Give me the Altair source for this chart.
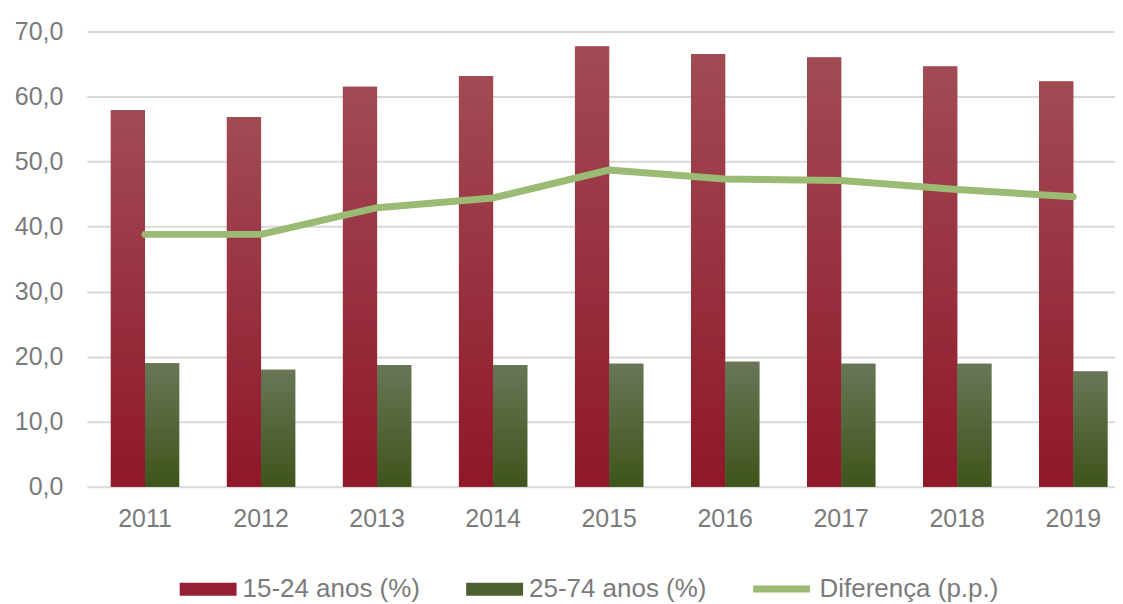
import altair as alt
import pandas as pd

years = ["2011", "2012", "2013", "2014", "2015", "2016", "2017", "2018", "2019"]
jovens = [57.9, 56.8, 61.5, 63.1, 67.7, 66.5, 66.0, 64.6, 62.3]
adultos = [19.0, 18.0, 18.7, 18.7, 18.9, 19.2, 18.9, 18.9, 17.7]
diferenca = [38.8, 38.8, 42.9, 44.4, 48.7, 47.3, 47.1, 45.7, 44.6]

s1 = "15-24 anos (%)"
s2 = "25-74 anos (%)"
s3 = "Diferença (p.p.)"

bars_df = pd.DataFrame(
    {"ano": years * 2, "serie": [s1] * len(years) + [s2] * len(years), "valor": jovens + adultos}
)
line_df = pd.DataFrame({"ano": years, "serie": [s3] * len(years), "valor": diferenca})

FONT = "Liberation Sans"
GREY = "#7b7b7b"

x_enc = alt.X(
    "ano:N",
    sort=years,
    title=None,
    scale=alt.Scale(paddingInner=0.411, paddingOuter=0.136, align=0.76),
    axis=alt.Axis(
        domain=False,
        ticks=False,
        labelAngle=0,
        labelFontSize=25,
        labelFont=FONT,
        labelColor=GREY,
        labelPadding=20,
    ),
)
y_enc = alt.Y(
    "valor:Q",
    title=None,
    scale=alt.Scale(domain=[0, 70], nice=False),
    axis=alt.Axis(
        values=[0, 10, 20, 30, 40, 50, 60, 70],
        domain=False,
        ticks=False,
        grid=True,
        gridColor="#d9d9d9",
        gridWidth=2,
        labelFontSize=25,
        labelFont=FONT,
        labelColor=GREY,
        labelPadding=24,
        labelExpr="replace(format(datum.value, '.1f'), '.', ',')",
    ),
)
xoff = alt.XOffset("serie:N", sort=[s1, s2], scale=alt.Scale(domain=[s1, s2], paddingInner=0, paddingOuter=0))

base_bars = alt.Chart(bars_df)

solid = base_bars.mark_bar().encode(
    x=x_enc,
    y=y_enc,
    xOffset=xoff,
    color=alt.Color(
        "serie:N",
        scale=alt.Scale(domain=[s1, s2], range=["#971f33", "#4d6030"]),
        legend=alt.Legend(
            title=None,
            orient="none",
            legendX=93,
            legendY=530,
            direction="horizontal",
            symbolType="M-1,-0.228H1V0.228H-1Z",
            symbolSize=3249,
            symbolStrokeWidth=0,
            symbolOpacity=1,
            labelFontSize=26,
            labelFont=FONT,
            labelColor=GREY,
            labelOffset=6,
            labelLimit=400,
            columnPadding=46,
        ),
    ),
)

grad_red = alt.LinearGradient(
    gradient="linear",
    x1=0, x2=0, y1=0, y2=1,
    stops=[alt.GradientStop(color="#a14b55", offset=0), alt.GradientStop(color="#8f1729", offset=1)],
)
grad_green = alt.LinearGradient(
    gradient="linear",
    x1=0, x2=0, y1=0, y2=1,
    stops=[alt.GradientStop(color="#687657", offset=0), alt.GradientStop(color="#3f541b", offset=1)],
)

red_bars = base_bars.transform_filter(alt.datum.serie == s1).mark_bar(color=grad_red).encode(
    x=x_enc, y=y_enc, xOffset=xoff
)
green_bars = base_bars.transform_filter(alt.datum.serie == s2).mark_bar(color=grad_green).encode(
    x=x_enc, y=y_enc, xOffset=xoff
)

bars = alt.layer(solid, red_bars, green_bars)

line = alt.Chart(line_df).mark_line(strokeWidth=7, strokeCap="round", strokeJoin="round").encode(
    x=x_enc,
    y=y_enc,
    color=alt.Color(
        "serie:N",
        scale=alt.Scale(domain=[s3], range=["#9bba74"]),
        legend=alt.Legend(
            title=None,
            orient="none",
            legendX=664,
            legendY=526.5,
            direction="horizontal",
            symbolType="M-1,0H1",
            symbolSize=3249,
            symbolStrokeWidth=7,
            symbolOpacity=1,
            labelFontSize=26,
            labelFont=FONT,
            labelColor=GREY,
            labelOffset=6,
            labelLimit=400,
        ),
    ),
)

chart = (
    alt.layer(bars, line)
    .resolve_scale(color="independent")
    .resolve_legend(color="independent")
    .properties(
        width=1030,
        height=456,
        autosize=alt.AutoSizeParams(type="none"),
        padding={"left": 79, "top": 23, "right": 0, "bottom": 117},
        background="white",
    )
    .configure_view(strokeWidth=0)
)

chart.save("out.html", embed_options={"renderer": "svg", "actions": False})
